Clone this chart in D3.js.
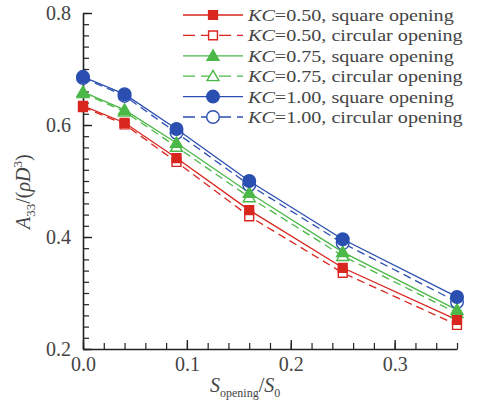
<!DOCTYPE html>
<html>
<head>
<meta charset="utf-8">
<script src="https://cdn.jsdelivr.net/npm/d3@7"></script>
<style>
  body { margin: 0; background: #fff; }
  svg { font-family: 'Liberation Serif', 'Times New Roman', serif; }
</style>
</head>
<body>
<div id="viz"></div>
<script>
const width = 477;
const height = 410;

// Data
const openingRatio = [0, 0.04, 0.09, 0.16, 0.25, 0.36];
const kc050Square = [0.634, 0.604, 0.541, 0.448, 0.345, 0.252];
const kc050Circular = [0.632, 0.601, 0.534, 0.437, 0.336, 0.243];
const kc075Square = [0.659, 0.627, 0.568, 0.479, 0.373, 0.270];
const kc075Circular = [0.657, 0.624, 0.561, 0.471, 0.366, 0.264];
const kc100Square = [0.686, 0.655, 0.593, 0.500, 0.396, 0.293];
const kc100Circular = [0.684, 0.652, 0.586, 0.493, 0.389, 0.284];
const xTicks = [0, 0.1, 0.2, 0.3];
const yTicks = [0.2, 0.4, 0.6, 0.8];
const seriesNames = ['=0.50, square opening', '=0.50, circular opening',
  '=0.75, square opening', '=0.75, circular opening',
  '=1.00, square opening', '=1.00, circular opening'];

const red = '#d9261f', green = '#4cb848', blue = '#2b4fb0';

const series = [
  {name: seriesNames[0], values: kc050Square, color: red, shape: 'square', open: false},
  {name: seriesNames[1], values: kc050Circular, color: red, shape: 'square', open: true},
  {name: seriesNames[2], values: kc075Square, color: green, shape: 'triangle', open: false},
  {name: seriesNames[3], values: kc075Circular, color: green, shape: 'triangle', open: true},
  {name: seriesNames[4], values: kc100Square, color: blue, shape: 'circle', open: false},
  {name: seriesNames[5], values: kc100Circular, color: blue, shape: 'circle', open: true}
];

const svg = d3.select('#viz')
  .append('svg')
    .attr('width', width)
    .attr('height', height);

const xScale = d3.scaleLinear().domain([0, 0.36]).range([83, 457]);
const yScale = d3.scaleLinear().domain([0.2, 0.8]).range([349, 13]);

// minor ticks
svg.append('g')
    .attr('transform', `translate(0, ${yScale(0.2)})`)
  .call(d3.axisBottom(xScale).tickValues(d3.range(0, 0.3601, 0.02)).tickSize(-6).tickFormat(''))
  .call(g => g.select('.domain').remove())
  .selectAll('line').attr('stroke', '#222').attr('stroke-width', 1.2);
svg.append('g')
    .attr('transform', `translate(${xScale(0)}, 0)`)
  .call(d3.axisLeft(yScale).tickValues(d3.range(0.2, 0.8001, 0.02)).tickSize(-6).tickFormat(''))
  .call(g => g.select('.domain').remove())
  .selectAll('line').attr('stroke', '#222').attr('stroke-width', 1.2);

// major axes
const xAxisGroup = svg.append('g')
    .attr('transform', `translate(0, ${yScale(0.2)})`)
    .style('font-size', '20px')
  .call(d3.axisBottom(xScale).tickValues(xTicks).tickSize(-9).tickSizeOuter(0).tickPadding(8).tickFormat(d3.format('.1f')));
const yAxisGroup = svg.append('g')
    .attr('transform', `translate(${xScale(0)}, 0)`)
    .style('font-size', '20px')
  .call(d3.axisLeft(yScale).tickValues(yTicks).tickSize(-9).tickSizeOuter(0).tickPadding(12).tickFormat(d3.format('.1f')));
[xAxisGroup, yAxisGroup].forEach(g => {
  g.attr('font-family', null);
  g.select('.domain').attr('stroke', '#222').attr('stroke-width', 1.6);
  g.selectAll('line').attr('stroke', '#222').attr('stroke-width', 1.4);
  g.selectAll('text').attr('fill', '#444');
});

// axis titles
const xTitle = svg.append('text')
    .attr('x', 210)
    .attr('y', 392)
    .attr('fill', '#444')
    .style('font-size', '20px');
xTitle.append('tspan').attr('font-style', 'italic').text('S');
xTitle.append('tspan').attr('font-size', '12px').attr('dy', 5).text('opening');
xTitle.append('tspan').attr('dy', -5).text('/');
xTitle.append('tspan').attr('font-style', 'italic').text('S');
xTitle.append('tspan').attr('font-size', '12px').attr('dy', 5).text('0');

const yTitle = svg.append('text')
    .attr('transform', 'translate(30, 229) rotate(-90)')
    .attr('fill', '#444')
    .style('font-size', '20px');
yTitle.append('tspan').attr('font-style', 'italic').text('A');
yTitle.append('tspan').attr('font-size', '13px').attr('dy', 5).text('33');
yTitle.append('tspan').attr('dy', -5).text('/(');
yTitle.append('tspan').attr('font-style', 'italic').text('ρD');
yTitle.append('tspan').attr('font-size', '13px').attr('dy', -8).text('3');
yTitle.append('tspan').attr('dy', 8).text(')');

// lines
const line = d3.line()
  .x((d, i) => xScale(openingRatio[i]))
  .y(d => yScale(d));

svg.append('g')
  .selectAll('path')
  .data(series)
  .join('path')
    .attr('d', d => line(d.values))
    .attr('fill', 'none')
    .attr('stroke', d => d.color)
    .attr('stroke-width', 1.3)
    .attr('stroke-dasharray', d => d.open ? '8,5' : null);

const symbolFor = shape => {
  if (shape === 'square') return d3.symbol(d3.symbolSquare, 78)();
  if (shape === 'triangle') return d3.symbol(d3.symbolTriangle, 62)();
  return d3.symbol(d3.symbolCircle, 125)();
};

// markers: open ones first, filled on top
const drawOrder = series.filter(s => s.open).concat(series.filter(s => !s.open));
drawOrder.forEach(s => {
  svg.append('g')
    .selectAll('path')
    .data(s.values)
    .join('path')
      .attr('transform', (d, i) => `translate(${xScale(openingRatio[i])}, ${yScale(d) + (s.shape === 'triangle' ? 1 : 0)})`)
      .attr('d', symbolFor(s.shape))
      .attr('fill', s.open ? '#fff' : s.color)
      .attr('stroke', s.color)
      .attr('stroke-width', 1.4);
});

// legend
const legend = svg.append('g')
  .selectAll('g')
  .data(series)
  .join('g')
    .attr('transform', (d, i) => `translate(0, ${15 + i * 20.4})`);
legend.append('line')
    .attr('x1', 183).attr('x2', 243)
    .attr('stroke', d => d.color)
    .attr('stroke-width', 1.3)
    .attr('stroke-dasharray', d => d.open ? '12,6' : null);
legend.append('path')
    .attr('transform', d => `translate(213, ${d.shape === 'triangle' ? 1 : 0})`)
    .attr('d', d => symbolFor(d.shape))
    .attr('fill', d => d.open ? '#fff' : d.color)
    .attr('stroke', d => d.color)
    .attr('stroke-width', 1.4);
const legendText = legend.append('text')
    .attr('transform', 'translate(248, 6) scale(1.15, 1)')
    .attr('fill', '#444')
    .style('font-size', '17.5px');
legendText.append('tspan').attr('font-style', 'italic').text('KC');
legendText.append('tspan').text(d => d.name);
</script>
</body>
</html>
